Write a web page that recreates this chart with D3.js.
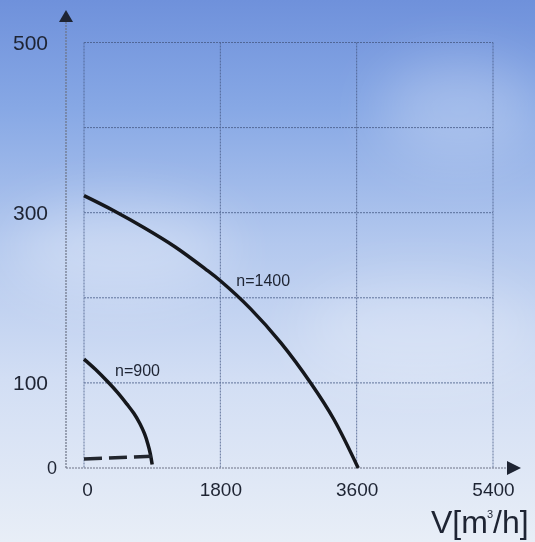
<!DOCTYPE html>
<html>
<head>
<meta charset="utf-8">
<script src="https://cdn.jsdelivr.net/npm/d3@7/dist/d3.min.js"></script>
<style>
  html, body { margin: 0; padding: 0; }
  svg { display: block; }
  text { font-family: "Liberation Sans", Arial, Helvetica, sans-serif; fill: #1e2433; }
</style>
</head>
<body>
<svg id="chart" width="535" height="542"></svg>
<script>
// chart values
var xTicks = [0, 1800, 3600, 5400];
var yGrid = [100, 200, 300, 400, 500];
var yTicks = [0, 100, 300, 500];

var curve1400 = [[0, 320], [400, 302], [800, 282], [1200, 260], [1600, 234], [1800, 220], [2200, 187], [2600, 147], [3000, 99], [3300, 57], [3620, 0]];
var curve900 = [[0, 128], [150, 116], [317, 101], [450, 88], [567, 75], [660, 64], [739, 52], [800, 40], [844, 28], [875, 17], [900, 4]];
var dashed = [[0, 10.5], [960, 14]];

var labels = [
    {text: 'n=1400', v: 2010, p: 214},
    {text: 'n=900', v: 410, p: 108}
];

var svg = d3.select('#chart');
var W = 535, H = 542;

// sky background
var defs = svg.append('defs');
var grad = defs.append('linearGradient')
    .attr('id', 'sky')
    .attr('x1', 0).attr('y1', 0).attr('x2', 0).attr('y2', 1);
[['0%', '#6f91db'], ['20%', '#87a8e5'], ['45%', '#b3c8ee'], ['70%', '#d2def4'], ['100%', '#e8eef7']]
    .forEach(function(s){
        grad.append('stop').attr('offset', s[0]).attr('stop-color', s[1]);
    });
defs.append('filter').attr('id', 'soft')
    .attr('x', '-50%').attr('y', '-50%').attr('width', '200%').attr('height', '200%')
    .append('feGaussianBlur').attr('stdDeviation', 28);

svg.append('rect').attr('width', W).attr('height', H).attr('fill', 'url(#sky)');

var clouds = svg.append('g').attr('filter', 'url(#soft)').attr('fill', '#ffffff');
clouds.append('ellipse').attr('cx', 460).attr('cy', 110).attr('rx', 80).attr('ry', 50).attr('opacity', 0.25);
clouds.append('ellipse').attr('cx', 120).attr('cy', 250).attr('rx', 110).attr('ry', 45).attr('opacity', 0.3);
clouds.append('ellipse').attr('cx', 420).attr('cy', 330).attr('rx', 120).attr('ry', 50).attr('opacity', 0.25);

// scales
var x = d3.scaleLinear().domain([0, 5400]).range([84, 493]);
var y = d3.scaleLinear().domain([0, 500]).range([468, 42.5]);

var gridColor = '#465a86';

// grid
var grid = svg.append('g')
    .attr('stroke', gridColor)
    .attr('stroke-width', 1)
    .attr('stroke-dasharray', '2,1')
    .attr('opacity', 0.8);

grid.selectAll('.vline').data(xTicks).enter()
    .append('line')
    .attr('x1', function(d){return x(d);})
    .attr('x2', function(d){return x(d);})
    .attr('y1', y(500))
    .attr('y2', y(0));

grid.selectAll('.hline').data(yGrid).enter()
    .append('line')
    .attr('x1', x(0))
    .attr('x2', x(5400))
    .attr('y1', function(d){return y(d);})
    .attr('y2', function(d){return y(d);});

// axis lines with arrows
var axisX0 = 66;
var axes = svg.append('g')
    .attr('stroke', '#6d7385')
    .attr('stroke-width', 1.2)
    .attr('stroke-dasharray', '2,1');
axes.append('line').attr('x1', axisX0).attr('x2', 508).attr('y1', y(0)).attr('y2', y(0));
axes.append('line').attr('x1', axisX0).attr('x2', axisX0).attr('y1', y(0)).attr('y2', 21);

svg.append('path')
    .attr('d', 'M' + axisX0 + ',10 L' + (axisX0 - 7) + ',22 L' + (axisX0 + 7) + ',22 Z')
    .attr('fill', '#1e2433');
svg.append('path')
    .attr('d', 'M521,' + y(0) + ' L507,' + (y(0) - 7) + ' L507,' + (y(0) + 7) + ' Z')
    .attr('fill', '#1e2433');

// tick labels through d3 axes
var xAxis = svg.append('g')
    .attr('transform', 'translate(0,' + y(0) + ')')
    .call(d3.axisBottom(x).tickValues(xTicks).tickSize(0).tickPadding(15).tickFormat(d3.format('d')));
xAxis.select('.domain').remove();
xAxis.selectAll('text')
    .attr('font-size', 19)
    .attr('font-family', '"Liberation Sans", Arial, sans-serif')
    .attr('fill', '#1e2433')
    .attr('dx', function(d){return d === 0 ? 3 : 0;});

var yAxis = svg.append('g')
    .attr('transform', 'translate(' + axisX0 + ',0)')
    .call(d3.axisLeft(y).tickValues(yTicks).tickSize(0).tickPadding(18).tickFormat(d3.format('d')));
yAxis.select('.domain').remove();
yAxis.selectAll('text')
    .attr('font-size', function(d){return d === 0 ? 18 : 21;})
    .attr('font-family', '"Liberation Sans", Arial, sans-serif')
    .attr('fill', '#1e2433')
    .attr('dx', function(d){return d === 0 ? 9 : 0;});

// curves
var line = d3.line()
    .x(function(d){return x(d[0]);})
    .y(function(d){return y(d[1]);})
    .curve(d3.curveCatmullRom.alpha(0.5));

svg.append('path')
    .datum(curve1400)
    .attr('d', line)
    .attr('fill', 'none')
    .attr('stroke', '#15171c')
    .attr('stroke-width', 3.5);

svg.append('path')
    .datum(curve900)
    .attr('d', line)
    .attr('fill', 'none')
    .attr('stroke', '#15171c')
    .attr('stroke-width', 3.5);

svg.append('path')
    .datum(dashed)
    .attr('d', d3.line().x(function(d){return x(d[0]);}).y(function(d){return y(d[1]);}))
    .attr('fill', 'none')
    .attr('stroke', '#22262e')
    .attr('stroke-width', 3.5)
    .attr('stroke-dasharray', '18,7');

// curve labels
svg.selectAll('.clabel').data(labels).enter()
    .append('text')
    .attr('x', function(d){return x(d.v);})
    .attr('y', function(d){return y(d.p);})
    .attr('font-size', 16)
    .text(function(d){return d.text;});

// unit label
var unit = svg.append('text')
    .attr('x', 431)
    .attr('y', 533)
    .attr('font-size', 32);
unit.append('tspan').text('V[m');
unit.append('tspan').attr('font-size', 11).attr('dx', -1).attr('dy', -15).text('3');
unit.append('tspan').attr('dx', 0).attr('dy', 15).text('/h]');
</script>
</body>
</html>
